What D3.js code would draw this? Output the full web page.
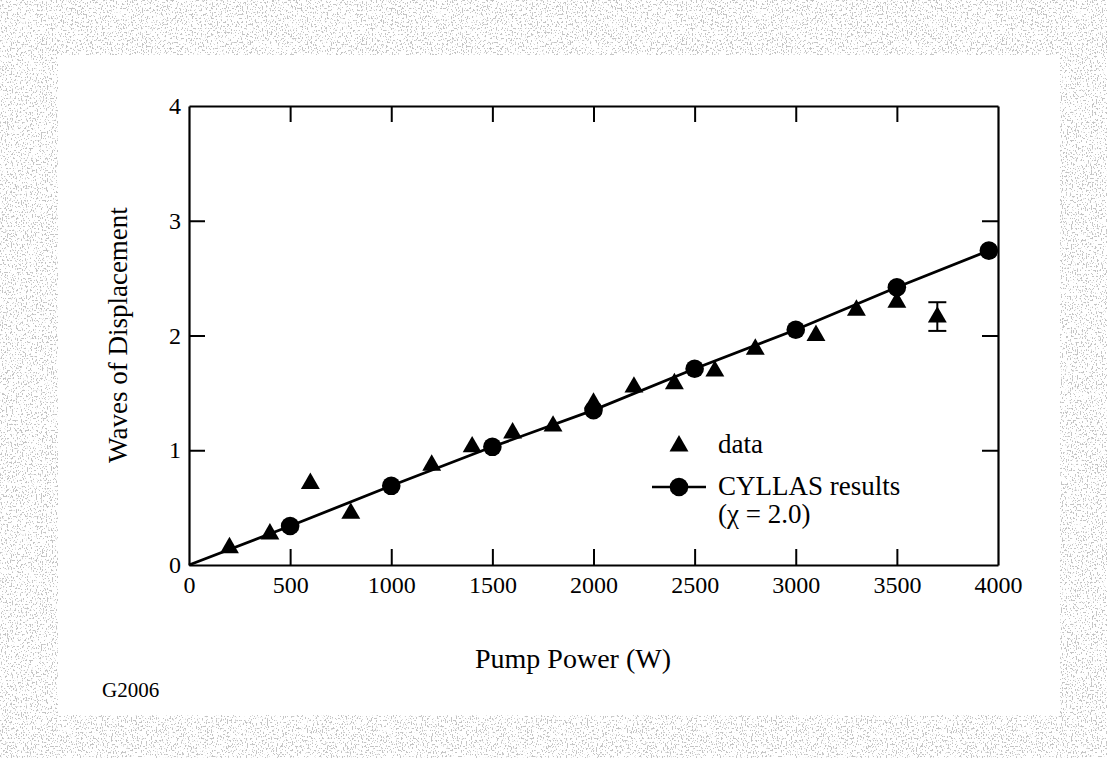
<!DOCTYPE html>
<html>
<head>
<meta charset="utf-8">
<script src="https://cdn.jsdelivr.net/npm/d3@7"></script>
<style>
  body { margin: 0; background: #fff; }
  svg { display: block; }
  text { font-family: "Liberation Serif", "Times New Roman", serif; fill: #000; }
</style>
</head>
<body>
<svg id="chart" width="1107" height="758"></svg>
<script>
// measured data (triangles)
var dataPower = [200, 400, 600, 800, 1200, 1400, 1600, 1800, 2000, 2200, 2400, 2600, 2800, 3100, 3300, 3500, 3700];
var dataWaves = [0.15, 0.27, 0.71, 0.45, 0.87, 1.03, 1.15, 1.21, 1.41, 1.55, 1.58, 1.69, 1.88, 2.00, 2.22, 2.29, 2.16];

// error bar on the last data point
var errPower = [3700];
var errLow = [2.04];
var errHigh = [2.29];

// CYLLAS model results (circles), line starts at origin
var modelPower = [0, 500, 1000, 1500, 2000, 2500, 3000, 3500, 3955];
var modelWaves = [0, 0.34, 0.69, 1.03, 1.35, 1.71, 2.05, 2.42, 2.74];

var xTicks = [0, 500, 1000, 1500, 2000, 2500, 3000, 3500, 4000];
var yTicks = [0, 1, 2, 3, 4];

var svg = d3.select("#chart");

// speckled scan border
var defs = svg.append("defs");
var f = defs.append("filter").attr("id", "speck")
  .attr("x", 0).attr("y", 0).attr("width", "100%").attr("height", "100%");
f.append("feTurbulence").attr("type", "fractalNoise")
  .attr("baseFrequency", "0.8 0.5").attr("numOctaves", 3).attr("seed", 7).attr("result", "n");
f.append("feColorMatrix").attr("in", "n").attr("type", "matrix")
  .attr("values", "0 0 0 0 0.55  0 0 0 0 0.55  0 0 0 0 0.55  0 0 0 14 -8.2");

svg.append("rect").attr("width", 1107).attr("height", 758).attr("fill", "#fff");
svg.append("rect").attr("width", 1107).attr("height", 758).attr("filter", "url(#speck)");
svg.append("rect").attr("x", 58).attr("y", 55).attr("width", 1002).attr("height", 660).attr("fill", "#fff");

var plotLeft = 189, plotRight = 998, plotTop = 106, plotBottom = 565;

var x = d3.scaleLinear().domain([0, 4000]).range([plotLeft, plotRight]);
var y = d3.scaleLinear().domain([0, 4]).range([plotBottom, plotTop]);

var tickLen = 16;
function styleAxis(g) {
  g.select(".domain").attr("stroke-width", 2.2);
  g.selectAll(".tick line").attr("stroke-width", 2);
  g.selectAll(".tick text").style("font-size", "24px")
    .style("font-family", "'Liberation Serif', serif").attr("fill", "#000");
}

svg.append("g").attr("transform", "translate(0," + plotBottom + ")")
  .call(d3.axisBottom(x).tickValues(xTicks).tickSizeInner(-tickLen).tickSizeOuter(0).tickFormat(d3.format("d")))
  .call(styleAxis)
  .call(g => g.selectAll(".tick text").attr("dy", "0.71em").attr("y", 11));

svg.append("g").attr("transform", "translate(0," + plotTop + ")")
  .call(d3.axisTop(x).tickValues(xTicks).tickSizeInner(-tickLen).tickSizeOuter(0).tickFormat(""))
  .call(styleAxis);

svg.append("g").attr("transform", "translate(" + plotLeft + ",0)")
  .call(d3.axisLeft(y).tickValues(yTicks).tickSizeInner(-tickLen).tickSizeOuter(0).tickFormat(d3.format("d")))
  .call(styleAxis)
  .call(g => g.selectAll(".tick text").attr("x", -8));

svg.append("g").attr("transform", "translate(" + plotRight + ",0)")
  .call(d3.axisRight(y).tickValues(yTicks).tickSizeInner(-tickLen).tickSizeOuter(0).tickFormat(""))
  .call(styleAxis);

// tick marks on the frame corners are not drawn
svg.selectAll(".tick").filter(d => d === 0 || d === 4000 || d === 4).select("line").remove();

// model line
var model = modelPower.map((p, i) => [p, modelWaves[i]]);
svg.append("path").datum(model)
  .attr("fill", "none").attr("stroke", "#000").attr("stroke-width", 2.8)
  .attr("d", d3.line().x(d => x(d[0])).y(d => y(d[1])));

var tri = d3.symbol().type(d3.symbolTriangle).size(155);

// error bar
errPower.forEach((p, i) => {
  var g = svg.append("g").attr("stroke", "#000").attr("stroke-width", 2);
  g.append("line").attr("x1", x(p)).attr("x2", x(p)).attr("y1", y(errLow[i])).attr("y2", y(errHigh[i]));
  g.append("line").attr("x1", x(p) - 9).attr("x2", x(p) + 9).attr("y1", y(errLow[i])).attr("y2", y(errLow[i]));
  g.append("line").attr("x1", x(p) - 9).attr("x2", x(p) + 9).attr("y1", y(errHigh[i])).attr("y2", y(errHigh[i]));
});

// data triangles
svg.append("g").selectAll("path").data(dataPower).join("path")
  .attr("d", tri)
  .attr("transform", (d, i) => "translate(" + x(d) + "," + y(dataWaves[i]) + ")")
  .attr("fill", "#000");

// model circles (skip origin)
svg.append("g").selectAll("circle").data(model.slice(1)).join("circle")
  .attr("cx", d => x(d[0])).attr("cy", d => y(d[1])).attr("r", 9.3)
  .attr("fill", "#000");

// legend
svg.append("path").attr("d", tri).attr("transform", "translate(679,446)").attr("fill", "#000");
svg.append("text").attr("x", 718).attr("y", 453).style("font-size", "27px").text("data");
svg.append("line").attr("x1", 652).attr("x2", 706).attr("y1", 487).attr("y2", 487)
  .attr("stroke", "#000").attr("stroke-width", 2.4);
svg.append("circle").attr("cx", 679).attr("cy", 487).attr("r", 9.3).attr("fill", "#000");
svg.append("text").attr("x", 718).attr("y", 495).style("font-size", "27px").text("CYLLAS results");
svg.append("text").attr("x", 718).attr("y", 523).style("font-size", "27px").text("(χ = 2.0)");

// axis titles
svg.append("text").attr("transform", "translate(127,335) rotate(-90)")
  .attr("text-anchor", "middle").style("font-size", "27px").text("Waves of Displacement");
svg.append("text").attr("x", 573).attr("y", 668)
  .attr("text-anchor", "middle").style("font-size", "28px").text("Pump Power (W)");
svg.append("text").attr("x", 102).attr("y", 697).style("font-size", "21px").text("G2006");
</script>
</body>
</html>
